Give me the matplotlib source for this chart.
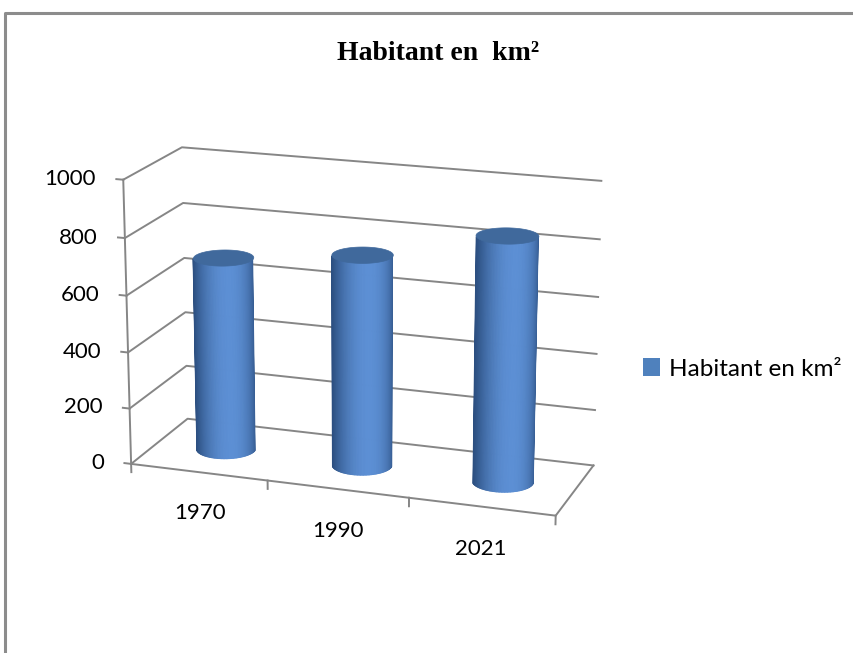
import numpy as np
import matplotlib
matplotlib.use('Agg')
import matplotlib.pyplot as plt
from matplotlib.patches import Patch
from matplotlib.lines import Line2D
from mpl_toolkits.mplot3d import proj3d
from mpl_toolkits.mplot3d.art3d import Poly3DCollection

# data
years = ['1970', '1990', '2021']
habitants = [690, 745, 855]
value_ticks = [0, 200, 400, 600, 800, 1000]
serie_label = 'Habitant en km²'
chart_title = 'Habitant en  km²'

# styles
grid_color = '#868686'
bar_dark = np.array([0x2c, 0x4f, 0x80]) / 255
bar_light = np.array([0x5c, 0x8f, 0xd4]) / 255
top_color = '#40699c'
legend_color = '#4f81bd'
label_font = dict(family='Lato', fontsize=16, color='black')

ELEV, AZIM = 17, -71

fig = plt.figure(figsize=(8.54, 6.53), dpi=100)
ax = fig.add_axes([0.0632, 0.0307, 0.7026, 0.9188], projection='3d',
                  computed_zorder=False)
ax.set_proj_type('persp', focal_length=0.8)
ax.view_init(elev=ELEV, azim=AZIM)
ax.set_box_aspect((3, 1, 2), zoom=0.9)
ax.set_axis_off()

x0, x1 = -0.5, len(years) - 0.5
zmax = value_ticks[-1]

# walls: back wall + left wall gridlines
for v in value_ticks:
    ax.plot([x0, x0, x1], [0, 1, 1], [v, v, v], color=grid_color, lw=1.4,
            zorder=1)
# vertical value axis and floor edges
ax.plot([x0, x0], [0, 0], [0, zmax], color=grid_color, lw=1.4, zorder=1)
ax.plot([x0, x1, x1], [0, 0, 1], [0, 0, 0], color=grid_color, lw=1.4, zorder=1)

# tick marks
for v in value_ticks:
    ax.plot([x0 - 0.05, x0], [0, 0], [v, v], color=grid_color, lw=1.4, zorder=1)
for k in range(len(years) + 1):
    ax.plot([x0 + k, x0 + k], [0, 0], [0, -30], color=grid_color, lw=1.4,
            zorder=1)

# cylinders: shaded side strips (front half only) + flat top
r = 0.205
yc = 0.5
theta_c = np.deg2rad(AZIM)
alphas = np.deg2rad(np.linspace(-80, 80, 57))
peak = np.deg2rad(12)
full = np.linspace(0, 2 * np.pi, 120)
for i, h in enumerate(habitants):
    theta = theta_c + alphas
    xs = i + r * np.cos(theta)
    ys = yc + r * np.sin(theta)
    quads, cols = [], []
    for k in range(len(theta) - 1):
        quads.append([(xs[k], ys[k], 0), (xs[k + 1], ys[k + 1], 0),
                      (xs[k + 1], ys[k + 1], h), (xs[k], ys[k], h)])
        a = 0.5 * (alphas[k] + alphas[k + 1])
        f = max(np.cos(a - peak), 0) ** 1.6
        cols.append(bar_dark + (bar_light - bar_dark) * f)
    side = Poly3DCollection(quads, facecolors=cols, edgecolors=cols,
                            linewidths=0.8, zorder=2 + 2 * i)
    ax.add_collection3d(side)
    top = [list(zip(i + r * np.cos(full), yc + r * np.sin(full),
                    np.full(full.size, h)))]
    ax.add_collection3d(Poly3DCollection(top, facecolors=top_color,
                                         edgecolors=top_color, linewidths=0.5,
                                         zorder=3 + 2 * i))

ax.set_xlim(x0, x1)
ax.set_ylim(0, 1)
ax.set_zlim(0, zmax)

# tick labels: project the 3D anchor points and place plain 2D texts
fig.canvas.draw()
M = ax.get_proj()


def label_at(x, y, z, s, **kw):
    px, py, _ = proj3d.proj_transform(x, y, z, M)
    ax.text2D(px, py, s, transform=ax.transData, **kw)


for v in value_ticks:
    label_at(x0 - 0.2, 0, v, str(v), ha='right', va='center_baseline',
             **label_font)
for i, yr in enumerate(years):
    label_at(i, 0, -150, yr, ha='center', va='center', **label_font)

# title and legend
fig.text(0.5135, 1 - 60 / 653, chart_title, ha='center', va='baseline',
         family='Liberation Serif', fontweight='bold', fontsize=20)
fig.legend(handles=[Patch(facecolor=legend_color, label=serie_label)],
           loc='center left', bbox_to_anchor=(643 / 854, 1 - 369 / 653),
           frameon=False, handlelength=0.7, handleheight=0.7,
           handletextpad=0.35, borderpad=0, borderaxespad=0,
           prop=dict(family='Lato', size=17.5))

# chart border (left and top)
bx, by = 5.5 / 854, 1 - 13 / 653
fig.add_artist(Line2D([bx, bx, 1.01], [-0.01, by, by], color='#8c8c8c',
                      lw=2.2, transform=fig.transFigure))

fig.savefig('out.png', dpi=100)
